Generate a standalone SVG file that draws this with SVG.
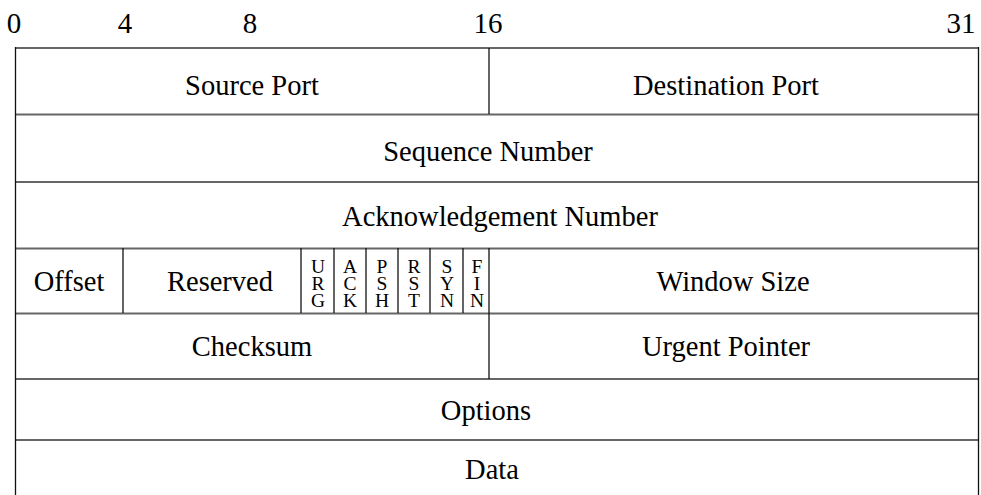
<svg xmlns="http://www.w3.org/2000/svg" width="981" height="495" viewBox="0 0 981 495">
<style>
text{font-family:"Liberation Serif","Times New Roman",serif;fill:#000}
.lbl{font-size:28.5px;text-anchor:middle}
.bit{font-size:29px;text-anchor:middle}
.flag{font-size:19.5px;text-anchor:middle}
.h{stroke:#666;stroke-width:2.2}
.v{stroke:#111;stroke-width:1.3}
</style>
<rect width="981" height="495" fill="#fff"/>
<g id="bits">
<text class="bit" x="14" y="33">0</text>
<text class="bit" x="125" y="33">4</text>
<text class="bit" x="250" y="33">8</text>
<text class="bit" x="488" y="33">16</text>
<text class="bit" x="961" y="33">31</text>
</g>
<g id="grid">
<line class="h" x1="15" y1="48" x2="979" y2="48"/>
<line class="h" x1="15" y1="114.5" x2="979" y2="114.5"/>
<line class="h" x1="15" y1="182" x2="979" y2="182"/>
<line class="h" x1="15" y1="248.5" x2="979" y2="248.5"/>
<line class="h" x1="15" y1="313.5" x2="979" y2="313.5"/>
<line class="h" x1="15" y1="379" x2="979" y2="379"/>
<line class="h" x1="15" y1="440" x2="979" y2="440"/>
<line class="v" x1="15.5" y1="47" x2="15.5" y2="495"/>
<line class="v" x1="978.5" y1="47" x2="978.5" y2="495"/>
<line class="v" x1="489" y1="48" x2="489" y2="114"/>
<line class="v" x1="123" y1="248" x2="123" y2="313"/>
<line class="v" x1="301" y1="248" x2="301" y2="313"/>
<line class="v" x1="334" y1="248" x2="334" y2="313"/>
<line class="v" x1="366" y1="248" x2="366" y2="313"/>
<line class="v" x1="398" y1="248" x2="398" y2="313"/>
<line class="v" x1="430" y1="248" x2="430" y2="313"/>
<line class="v" x1="463" y1="248" x2="463" y2="313"/>
<line class="v" x1="489" y1="248" x2="489" y2="379"/>
</g>
<g id="source-port"><text class="lbl" x="252" y="95">Source Port</text></g>
<g id="destination-port"><text class="lbl" x="726" y="95">Destination Port</text></g>
<g id="sequence-number"><text class="lbl" x="488" y="161">Sequence Number</text></g>
<g id="ack-number"><text class="lbl" x="500" y="226">Acknowledgement Number</text></g>
<g id="offset"><text class="lbl" x="69" y="291">Offset</text></g>
<g id="reserved"><text class="lbl" x="220" y="291">Reserved</text></g>
<g id="urg"><text class="flag"><tspan x="318" y="273">U</tspan><tspan x="318" y="290">R</tspan><tspan x="318" y="307">G</tspan></text></g>
<g id="ack"><text class="flag"><tspan x="350" y="273">A</tspan><tspan x="350" y="290">C</tspan><tspan x="350" y="307">K</tspan></text></g>
<g id="psh"><text class="flag"><tspan x="382" y="273">P</tspan><tspan x="382" y="290">S</tspan><tspan x="382" y="307">H</tspan></text></g>
<g id="rst"><text class="flag"><tspan x="414" y="273">R</tspan><tspan x="414" y="290">S</tspan><tspan x="414" y="307">T</tspan></text></g>
<g id="syn"><text class="flag"><tspan x="447" y="273">S</tspan><tspan x="447" y="290">Y</tspan><tspan x="447" y="307">N</tspan></text></g>
<g id="fin"><text class="flag"><tspan x="477" y="273">F</tspan><tspan x="477" y="290">I</tspan><tspan x="477" y="307">N</tspan></text></g>
<g id="window-size"><text class="lbl" x="733" y="291">Window Size</text></g>
<g id="checksum"><text class="lbl" x="252" y="356">Checksum</text></g>
<g id="urgent-pointer"><text class="lbl" x="726" y="356">Urgent Pointer</text></g>
<g id="options"><text class="lbl" x="486" y="420">Options</text></g>
<g id="data"><text class="lbl" x="492" y="479">Data</text></g>
</svg>
